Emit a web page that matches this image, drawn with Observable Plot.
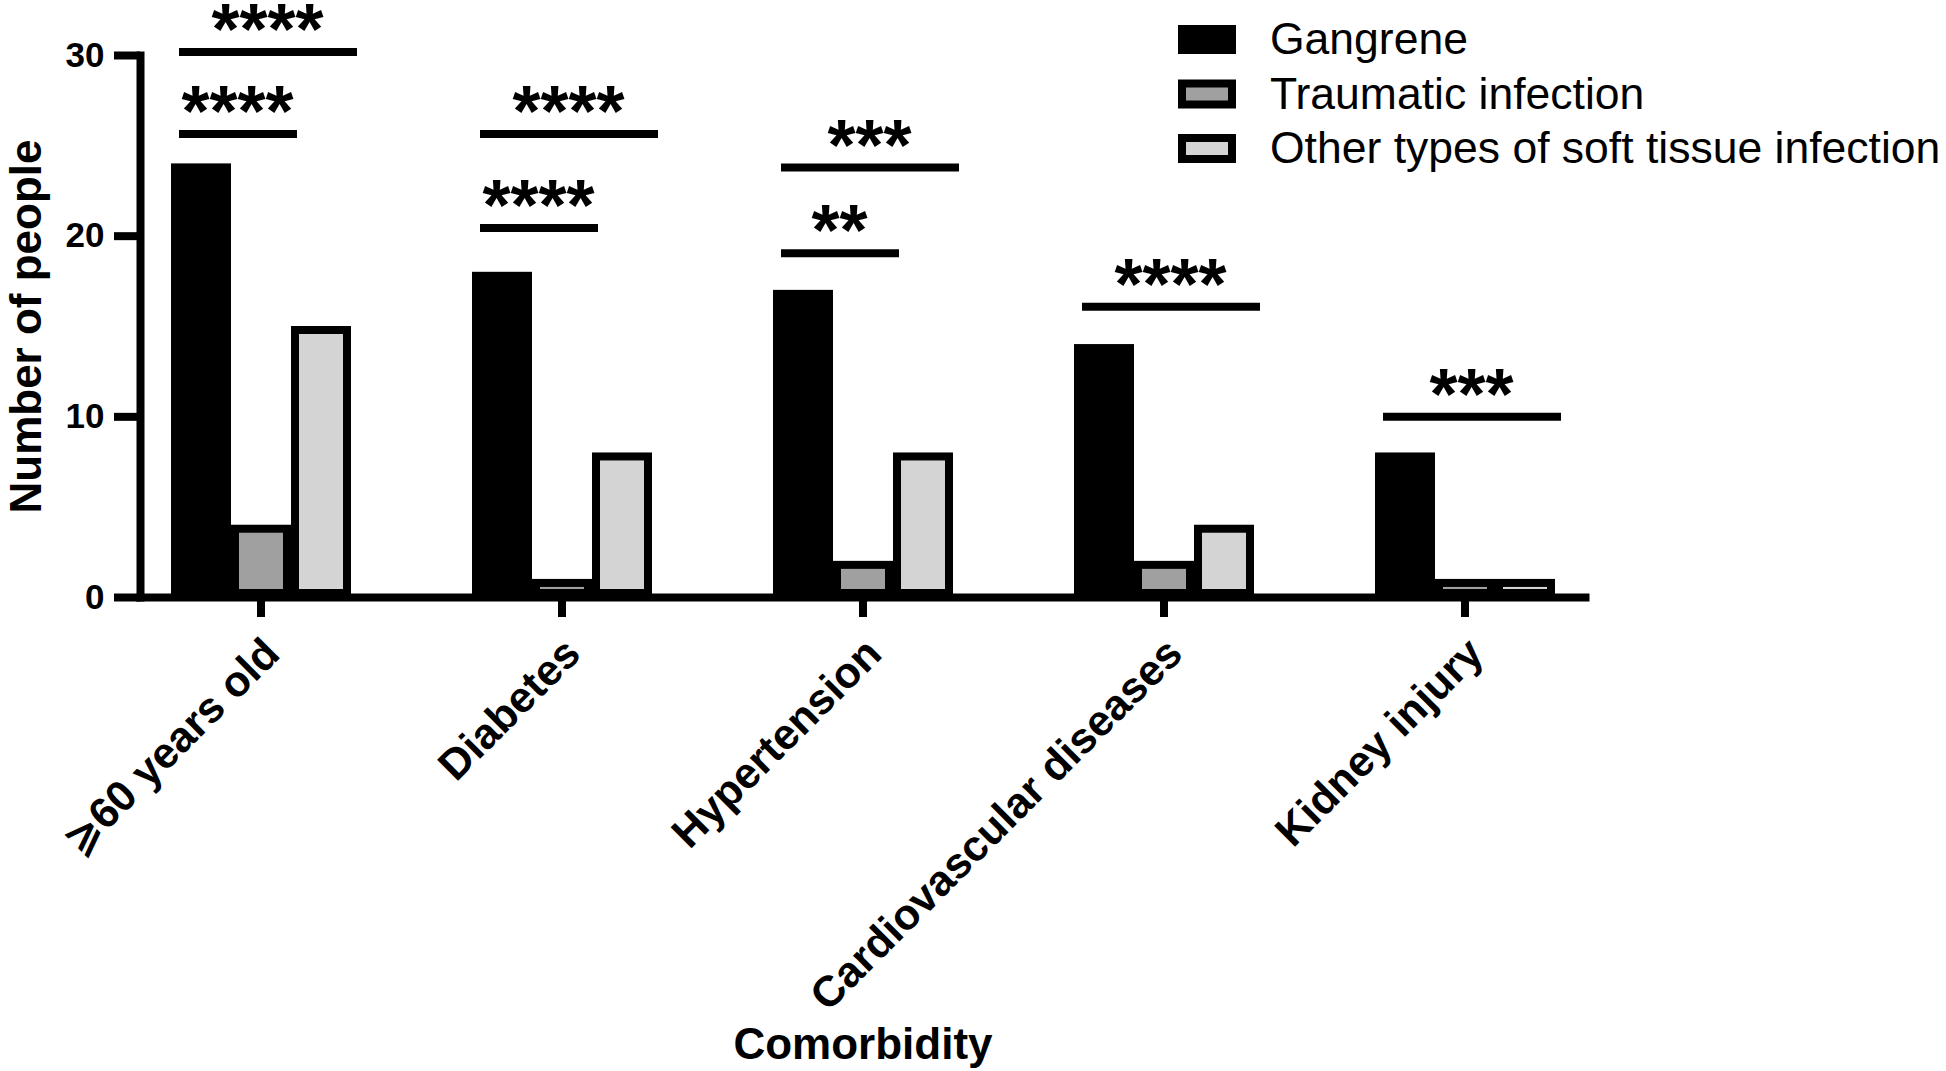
<!DOCTYPE html>
<html>
<head>
<meta charset="utf-8">
<script src="https://cdn.jsdelivr.net/npm/d3@7"></script>
<script src="https://cdn.jsdelivr.net/npm/@observablehq/plot@0.6"></script>
<style>
  html, body { margin: 0; padding: 0; background: #fff; }
  #wrap { position: relative; width: 1946px; height: 1071px; overflow: hidden; }
  #wrap svg { display: block; }
  g[aria-label="stars"] text { letter-spacing: 6px; }
</style>
</head>
<body>
<div id="wrap"></div>
<script>
// ---- data ----
const categories = ["⩾60 years old", "Diabetes", "Hypertension", "Cardiovascular diseases", "Kidney injury"];
const seriesNames = ["Gangrene", "Traumatic infection", "Other types of soft tissue infection"];
const seriesColors = ["#000000", "#a0a0a0", "#d4d4d4"];
const gangrene = [24, 18, 17, 14, 8];
const traumatic = [4, 1, 2, 2, 1];
const otherSoft = [15, 8, 8, 4, 1];
const yTicks = [0, 10, 20, 30];

// significance brackets: category, compared series (vs Gangrene), bar height, label
const sigCategory = ["⩾60 years old", "⩾60 years old", "Diabetes", "Diabetes", "Hypertension", "Hypertension", "Cardiovascular diseases", "Kidney injury"];
const sigTarget = ["Traumatic infection", "Other types of soft tissue infection", "Traumatic infection", "Other types of soft tissue infection", "Traumatic infection", "Other types of soft tissue infection", "Other types of soft tissue infection", "Other types of soft tissue infection"];
const sigLevel = [25.65, 30.2, 20.45, 25.65, 19.05, 23.8, 16.1, 10.0];
const sigStars = ["****", "****", "****", "****", "**", "***", "****", "***"];

const xTitle = "Comorbidity";
const yTitle = "Number of people";

// ---- tables ----
const seriesValues = [gangrene, traumatic, otherSoft];
const bars = categories.flatMap((c, i) => seriesNames.map((s, j) => ({category: c, series: s, value: seriesValues[j][i]})));
const sig = sigCategory.map((c, k) => ({category: c, from: seriesNames[0], to: sigTarget[k], level: sigLevel[k], stars: sigStars[k]}));
const sigWide = sig.filter(d => d.to === seriesNames[2]);
const sigNarrow = sig.filter(d => d.to === seriesNames[1]);

const FONT = "'Liberation Sans', Arial, 'DejaVu Sans', sans-serif";

const plot = Plot.plot({
  width: 1946,
  height: 1071,
  marginLeft: 138,
  marginRight: 359,
  marginTop: 55,
  marginBottom: 474,
  style: {fontFamily: FONT, background: "transparent", overflow: "visible", color: "#000"},
  fx: {domain: categories, paddingInner: 0.2, paddingOuter: 0, label: null},
  x: {domain: seriesNames, paddingInner: 0, paddingOuter: 0.5, axis: null},
  y: {domain: [0, 30], label: null},
  color: {domain: seriesNames, range: seriesColors},
  marks: [
    Plot.barY(bars, {fx: "category", x: "series", y: "value", fill: "series", stroke: "#000", strokeWidth: 8, inset: 4}),
    Plot.ruleY(sig, {fx: "category", x1: "from", x2: "to", y: "level", stroke: "#000", strokeWidth: 8, insetLeft: 8, insetRight: -6}),
    Plot.text(sigWide, {fx: "category", x: d => seriesNames[1], y: "level", text: "stars", fontSize: 72, fontWeight: "bold", lineAnchor: "bottom", dx: 6, dy: 2, fill: "#000", ariaLabel: "stars"}),
    Plot.text(sigNarrow, {fx: "category", x: d => seriesNames[0], y: "level", text: "stars", fontSize: 72, fontWeight: "bold", lineAnchor: "bottom", dx: 36, dy: 2, fill: "#000", ariaLabel: "stars"}),
    Plot.frame({anchor: "bottom", facet: "super", stroke: "#000", strokeWidth: 8}),
    Plot.frame({anchor: "left", facet: "super", stroke: "#000", strokeWidth: 8, strokeLinecap: "square"}),
    Plot.axisY({ticks: yTicks, tickSize: 26, tickPadding: 10, strokeWidth: 8, fontSize: 35, fontWeight: "bold", label: null, fill: "#000"}),
    Plot.axisFx({anchor: "bottom", tickSize: 20, strokeWidth: 8, tickFormat: () => "", label: null}),
    Plot.axisFx({anchor: "bottom", tickSize: 0, tickRotate: -45, fontSize: 43, fontWeight: "bold", label: null, dx: 11, dy: 37, fill: "#000"}),
    Plot.text([yTitle], {facet: "super", frameAnchor: "left", rotate: -90, textAnchor: "middle", lineAnchor: "bottom", dx: -100, fontSize: 44, fontWeight: "bold", fill: "#000"}),
    Plot.text([xTitle], {facet: "super", frameAnchor: "bottom", lineAnchor: "bottom", dy: 461, fontSize: 44, fontWeight: "bold", fill: "#000"})
  ]
});

const wrap = document.getElementById("wrap");
wrap.appendChild(plot);

// ---- legend (top right) ----
const legend = d3.select(wrap).append("svg")
  .attr("width", 1946).attr("height", 200)
  .style("position", "absolute").style("left", "0px").style("top", "0px")
  .style("font-family", FONT);
const rowY = d3.scalePoint().domain(seriesNames).range([25, 134]);
const item = legend.selectAll("g").data(seriesNames).join("g")
  .attr("transform", d => `translate(1178,${rowY(d)})`);
item.append("rect")
  .attr("x", 4).attr("y", 4).attr("width", 50).attr("height", 21)
  .attr("fill", (d, i) => seriesColors[i])
  .attr("stroke", "#000").attr("stroke-width", 8);
item.append("text")
  .attr("x", 92).attr("y", 29)
  .attr("font-size", 44.5)
  .attr("fill", "#000")
  .text(d => d);
</script>
</body>
</html>
